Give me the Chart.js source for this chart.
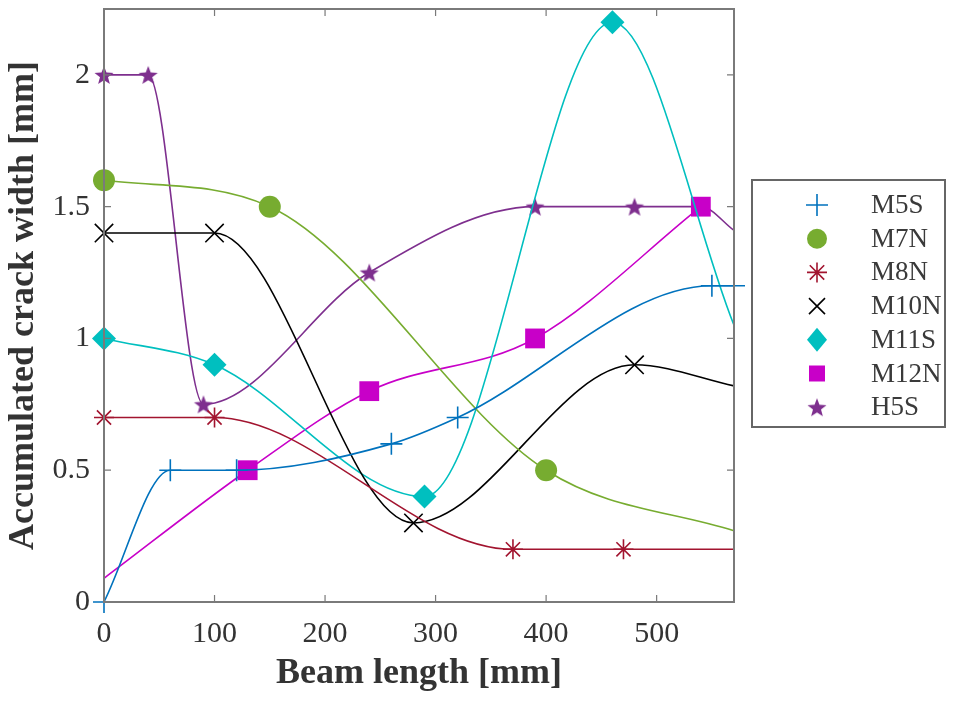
<!DOCTYPE html>
<html>
<head>
<meta charset="utf-8">
<script src="https://cdn.jsdelivr.net/npm/chart.js@4.4.1/dist/chart.umd.min.js"></script>
<style>
  body { margin: 0; background: #fff; }
</style>
</head>
<body>
<canvas id="chart" width="964" height="703"></canvas>
<script>
// beam length positions [mm] and accumulated crack width [mm] per beam
// points listed in *Bare are on the curve but carry no marker
const m5sX = [0, 60, 120, 260, 320, 550, 570];
const m5sY = [0, 0.5, 0.5, 0.6, 0.7, 1.2, 1.2];
const m5sBare = [];

const m7nX = [0, 150, 400, 570];
const m7nY = [1.6, 1.5, 0.5, 0.27];
const m7nBare = [3];

const m8nX = [0, 100, 370, 470, 570];
const m8nY = [0.7, 0.7, 0.2, 0.2, 0.2];
const m8nBare = [4];

const m10nX = [0, 100, 280, 480, 570];
const m10nY = [1.4, 1.4, 0.3, 0.9, 0.82];
const m10nBare = [4];

const m11sX = [0, 100, 290, 460, 570];
const m11sY = [1.0, 0.9, 0.4, 2.2, 1.05];
const m11sBare = [4];

const m12nX = [0, 130, 240, 390, 540];
const m12nY = [0.09, 0.5, 0.8, 1.0, 1.5];
const m12nBare = [0];

const h5sX = [0, 40, 90, 240, 390, 480, 540, 570];
const h5sY = [2.0, 2.0, 0.75, 1.25, 1.5, 1.5, 1.5, 1.41];
const h5sBare = [6, 7];

const xTicks = [0, 100, 200, 300, 400, 500];
const yTicks = [0, 0.5, 1, 1.5, 2];

const serif = '"Liberation Serif", "Times New Roman", serif';

// filled five point star used for H5S
function starImage(color, r) {
  const c = document.createElement('canvas');
  c.width = c.height = Math.ceil(2 * r + 2);
  const g = c.getContext('2d');
  const cx = c.width / 2, cy = c.height / 2 + r * 0.1;
  g.beginPath();
  for (let i = 0; i < 10; i++) {
    const rad = i % 2 === 0 ? r : r * 0.42;
    const a = -Math.PI / 2 + i * Math.PI / 5;
    const px = cx + rad * Math.cos(a), py = cy + rad * Math.sin(a);
    if (i === 0) g.moveTo(px, py); else g.lineTo(px, py);
  }
  g.closePath();
  g.fillStyle = color;
  g.fill();
  return c;
}

// r: chart point radius (Chart.js units), lr: half size in the legend
const series = [
  { label: 'M5S',  xs: m5sX,  ys: m5sY,  bare: m5sBare,  color: '#0072BD', style: 'cross',    r: 11, lr: 11, fill: false },
  { label: 'M7N',  xs: m7nX,  ys: m7nY,  bare: m7nBare,  color: '#77AC30', style: 'circle',   r: 11, lr: 10, fill: true },
  { label: 'M8N',  xs: m8nX,  ys: m8nY,  bare: m8nBare,  color: '#A2142F', style: 'star',     r: 10, lr: 10, fill: false },
  { label: 'M10N', xs: m10nX, ys: m10nY, bare: m10nBare, color: '#000000', style: 'crossRot', r: 13, lr: 8,  fill: false },
  { label: 'M11S', xs: m11sX, ys: m11sY, bare: m11sBare, color: '#00BFBF', style: 'rectRot',  r: 12, lr: 10, fill: true },
  { label: 'M12N', xs: m12nX, ys: m12nY, bare: m12nBare, color: '#C800C8', style: 'rect',     r: 14, lr: 8,  fill: true },
  { label: 'H5S',  xs: h5sX,  ys: h5sY,  bare: h5sBare,  color: '#7E2F8E', style: 'pstar',    r: 10, lr: 10, fill: true }
];

const datasets = series.map(s => {
  const pts = s.xs.map((x, i) => ({ x: x, y: s.ys[i] }));
  const radius = s.xs.map((x, i) => s.bare.includes(i) ? 0 : s.r);
  const ps = s.style === 'pstar' ? starImage(s.color, s.r) : s.style;
  return {
    label: s.label,
    data: pts,
    borderColor: s.color,
    backgroundColor: s.fill ? s.color : 'rgba(0,0,0,0)',
    pointBackgroundColor: s.fill ? s.color : 'rgba(0,0,0,0)',
    pointBorderColor: s.color,
    pointBorderWidth: s.fill ? 0 : 1.6,
    borderWidth: 1.6,
    pointStyle: ps,
    pointRadius: radius,
    pointHoverRadius: radius,
    cubicInterpolationMode: 'monotone',
    clip: false
  };
});

// box around the plot with inward ticks, MATLAB style
const frame = {
  id: 'frame',
  afterDatasetsDraw(chart) {
    const { ctx, chartArea: a, scales } = chart;
    ctx.save();
    ctx.strokeStyle = '#7a7a7a';
    ctx.lineWidth = 2;
    ctx.strokeRect(a.left, a.top, a.right - a.left, a.bottom - a.top);
    ctx.lineWidth = 1.2;
    ctx.beginPath();
    xTicks.forEach(v => {
      const px = scales.x.getPixelForValue(v);
      ctx.moveTo(px, a.bottom); ctx.lineTo(px, a.bottom - 7);
      ctx.moveTo(px, a.top); ctx.lineTo(px, a.top + 7);
    });
    yTicks.forEach(v => {
      const py = scales.y.getPixelForValue(v);
      ctx.moveTo(a.left, py); ctx.lineTo(a.left + 7, py);
      ctx.moveTo(a.right, py); ctx.lineTo(a.right - 7, py);
    });
    ctx.stroke();
    ctx.restore();
  }
};

function drawMarker(ctx, s, x, y) {
  const r = s.lr;
  ctx.save();
  ctx.strokeStyle = s.color;
  ctx.fillStyle = s.color;
  ctx.lineWidth = 1.6;
  ctx.beginPath();
  if (s.style === 'cross') {
    ctx.moveTo(x - r, y); ctx.lineTo(x + r, y);
    ctx.moveTo(x, y - r); ctx.lineTo(x, y + r);
    ctx.stroke();
  } else if (s.style === 'crossRot') {
    ctx.moveTo(x - r, y - r); ctx.lineTo(x + r, y + r);
    ctx.moveTo(x - r, y + r); ctx.lineTo(x + r, y - r);
    ctx.stroke();
  } else if (s.style === 'star') {
    const d = r * 0.72;
    ctx.moveTo(x - r, y); ctx.lineTo(x + r, y);
    ctx.moveTo(x, y - r); ctx.lineTo(x, y + r);
    ctx.moveTo(x - d, y - d); ctx.lineTo(x + d, y + d);
    ctx.moveTo(x - d, y + d); ctx.lineTo(x + d, y - d);
    ctx.stroke();
  } else if (s.style === 'circle') {
    ctx.arc(x, y, r, 0, Math.PI * 2); ctx.fill();
  } else if (s.style === 'rectRot') {
    ctx.moveTo(x, y - r * 1.2); ctx.lineTo(x + r, y); ctx.lineTo(x, y + r * 1.2); ctx.lineTo(x - r, y);
    ctx.closePath(); ctx.fill();
  } else if (s.style === 'rect') {
    ctx.rect(x - r, y - r, r * 2, r * 2); ctx.fill();
  } else {
    const img = starImage(s.color, r);
    ctx.drawImage(img, x - img.width / 2, y - img.height / 2);
  }
  ctx.restore();
}

// legend box to the right of the axes
const legendBox = {
  id: 'legendBox',
  afterDraw(chart) {
    const ctx = chart.ctx;
    const left = 752, top = 180, w = 193, h = 247;
    ctx.save();
    ctx.fillStyle = '#fff';
    ctx.fillRect(left, top, w, h);
    ctx.strokeStyle = '#666';
    ctx.lineWidth = 2;
    ctx.strokeRect(left, top, w, h);
    ctx.font = '27px ' + serif;
    ctx.textBaseline = 'middle';
    series.forEach((s, i) => {
      const y = top + 25 + i * 33.7;
      drawMarker(ctx, s, 817, y);
      ctx.fillStyle = '#3a3a3a';
      ctx.fillText(s.label, 871, y + 1);
    });
    ctx.restore();
  }
};

new Chart(document.getElementById('chart'), {
  type: 'line',
  data: { datasets: datasets },
  plugins: [frame, legendBox],
  options: {
    responsive: false,
    animation: false,
    layout: { autoPadding: false, padding: { top: 9, right: 230, left: 0, bottom: 0 } },
    plugins: { legend: { display: false }, tooltip: { enabled: false } },
    scales: {
      x: {
        type: 'linear',
        min: 0,
        max: 570,
        afterFit(scale) { scale.height = 101; scale.paddingLeft = 0; scale.paddingRight = 0; },
        afterBuildTicks(scale) { scale.ticks = xTicks.map(v => ({ value: v })); },
        grid: { display: false, drawTicks: false },
        border: { display: false },
        ticks: { color: '#333', padding: 14, font: { family: serif, size: 30 },
                 callback: v => String(v) },
        title: { display: true, text: 'Beam length [mm]', color: '#333', padding: { top: 0, bottom: 8 },
                 font: { family: serif, size: 36, weight: 'bold' } }
      },
      y: {
        type: 'linear',
        min: 0,
        max: 2.25,
        afterFit(scale) { scale.width = 104; scale.paddingTop = 0; scale.paddingBottom = 0; },
        afterBuildTicks(scale) { scale.ticks = yTicks.map(v => ({ value: v })); },
        grid: { display: false, drawTicks: false },
        border: { display: false },
        ticks: { color: '#333', padding: 14, font: { family: serif, size: 30 },
                 callback: v => String(v) },
        title: { display: true, text: 'Accumulated crack width [mm]', color: '#333', padding: { top: 2, bottom: 0 },
                 font: { family: serif, size: 36, weight: 'bold' } }
      }
    }
  }
});
</script>
</body>
</html>
